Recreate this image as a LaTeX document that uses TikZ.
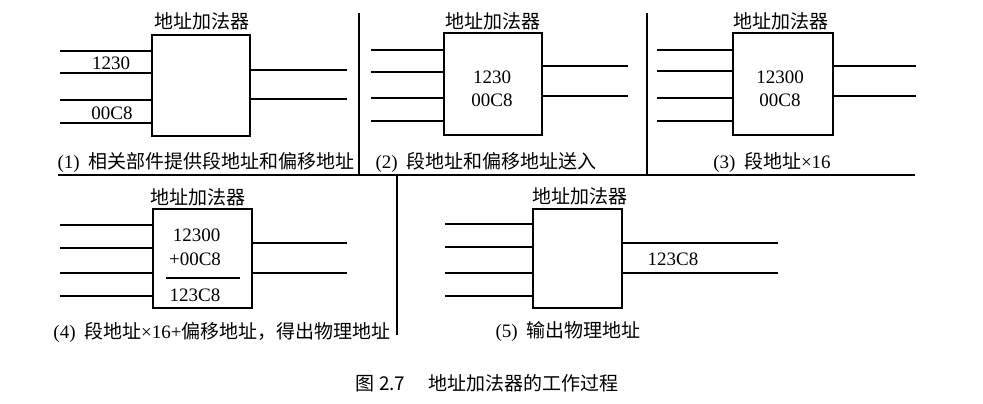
\documentclass[tikz,border=0pt]{standalone}
\usepackage{fontspec}
\setmainfont{Liberation Serif}
\newfontfamily\cjk{Noto Sans CJK SC}
\newcommand\fsz{\fontsize{19}{22}\selectfont}
\begin{document}
\begin{tikzpicture}[x=1pt,y=-1pt,
  adder/.style={draw,line width=1.2pt,inner sep=0pt},
  wire/.style={line width=1.1pt},
  divider/.style={line width=1.1pt},
  lbl/.style={font=\fsz,inner sep=0pt,anchor=center},
  ttl/.style={font=\fsz\cjk,inner sep=0pt,anchor=center}]
\useasboundingbox[fill=white] (0,0) rectangle (983,404);

% ---------- dividers
\coordinate (hL) at (58,175);
\coordinate (hR) at (915,175);
\coordinate (v1t) at (359,13);
\coordinate (v2t) at (647,13);
\coordinate (v3b) at (397,335);
\draw[divider] (hL) -- (hR);
\draw[divider] (v1t) -- (v1t |- hL);
\draw[divider] (v2t) -- (v2t |- hL);
\draw[divider] (v3b) -- (v3b |- hL);

% ---------- panel 1
\node[adder,minimum width=98pt,minimum height=101pt] (b1) at (201,85.5) {};
\node[ttl] (t1) at (202,21) {地址加法器};
\foreach \y [count=\i] in {51,73,100,123}{
  \coordinate (p1i\i) at (60,\y);
  \draw[wire] (p1i\i) -- (p1i\i -| b1.west);
}
\foreach \y [count=\i] in {70,99}{
  \coordinate (p1o\i) at (347,\y);
  \draw[wire] (b1.east |- p1o\i) -- (p1o\i);
}
\node[lbl] (n1a) at (111,63) {1230};
\node[lbl] (n1b) at (112,113) {00C8};
\node[lbl] (c1) at (206,162) {(1)\hspace{0.45em}{\cjk 相关部件提供段地址和偏移地址}};

% ---------- panel 2
\node[adder,minimum width=98pt,minimum height=102pt] (b2) at (493,84) {};
\node[ttl] (t2) at (493,21) {地址加法器};
\foreach \y [count=\i] in {50,72,98,121}{
  \coordinate (p2i\i) at (371,\y);
  \draw[wire] (p2i\i) -- (p2i\i -| b2.west);
}
\foreach \y [count=\i] in {66,96}{
  \coordinate (p2o\i) at (628,\y);
  \draw[wire] (b2.east |- p2o\i) -- (p2o\i);
}
\node[lbl] (n2a) at (492,77) {1230};
\node[lbl] (n2b) at (492,100) {00C8};
\node[lbl] (c2) at (486,162) {(2)\hspace{0.45em}{\cjk 段地址和偏移地址送入}};

% ---------- panel 3
\node[adder,minimum width=100pt,minimum height=102pt] (b3) at (783,84) {};
\node[ttl] (t3) at (781,21) {地址加法器};
\foreach \y [count=\i] in {50,71,98,121}{
  \coordinate (p3i\i) at (657,\y);
  \draw[wire] (p3i\i) -- (p3i\i -| b3.west);
}
\foreach \y [count=\i] in {66,96}{
  \coordinate (p3o\i) at (916,\y);
  \draw[wire] (b3.east |- p3o\i) -- (p3o\i);
}
\node[lbl] (n3a) at (780,77) {12300};
\node[lbl] (n3b) at (780,100) {00C8};
\node[lbl] (c3) at (772,162) {(3)\hspace{0.45em}{\cjk 段地址}×16};

% ---------- panel 4
\node[adder,minimum width=99pt,minimum height=99pt] (b4) at (202.5,258.5) {};
\node[ttl] (t4) at (198,197) {地址加法器};
\foreach \y [count=\i] in {225,248,273,296}{
  \coordinate (p4i\i) at (60,\y);
  \draw[wire] (p4i\i) -- (p4i\i -| b4.west);
}
\foreach \y [count=\i] in {243,273}{
  \coordinate (p4o\i) at (347,\y);
  \draw[wire] (b4.east |- p4o\i) -- (p4o\i);
}
\node[lbl] (n4a) at (196.5,235) {12300};
\node[lbl] (n4b) at (195,259) {+00C8};
\coordinate (s4l) at (166,278);
\coordinate (s4r) at (240,278);
\draw[wire] (s4l) -- (s4r);
\node[lbl] (n4c) at (195,295) {123C8};
\node[lbl] (c4) at (222,332) {(4)\hspace{0.45em}{\cjk 段地址}×16+{\cjk 偏移地址，得出物理地址}};

% ---------- panel 5
\node[adder,minimum width=89pt,minimum height=99pt] (b5) at (577.5,258.5) {};
\node[ttl] (t5) at (580,196) {地址加法器};
\foreach \y [count=\i] in {224,247,273,296}{
  \coordinate (p5i\i) at (445,\y);
  \draw[wire] (p5i\i) -- (p5i\i -| b5.west);
}
\foreach \y [count=\i] in {243,273}{
  \coordinate (p5o\i) at (778,\y);
  \draw[wire] (b5.east |- p5o\i) -- (p5o\i);
}
\node[lbl] (n5) at (673,259) {123C8};
\node[lbl] (c5) at (568,332) {(5)\hspace{0.45em}{\cjk 输出物理地址}};

% ---------- figure caption
\node[ttl,font=\fsz\cjk] (cap) at (487,383) {图 2.7\hspace{1.2em}地址加法器的工作过程};
\end{tikzpicture}
\end{document}
